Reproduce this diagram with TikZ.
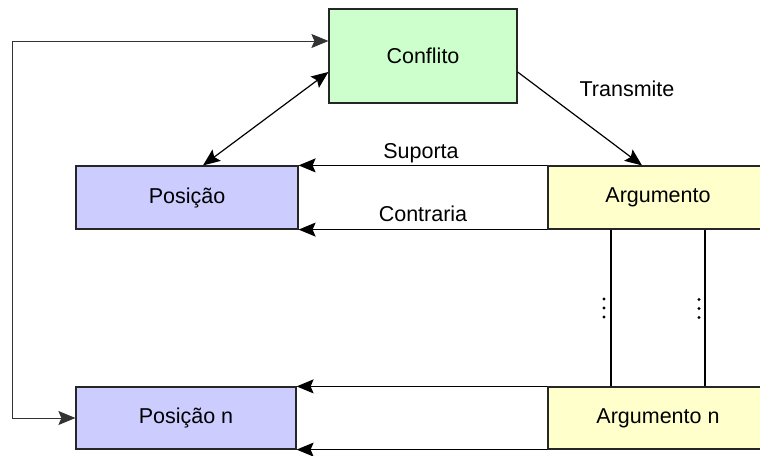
\documentclass[tikz,border=0pt]{standalone}
\usepackage{fontspec}
\setmainfont{Liberation Sans}
\usetikzlibrary{arrows.meta}
\definecolor{cgreen}{HTML}{CCFFCC}
\definecolor{cblue}{HTML}{CCCCFF}
\definecolor{cyellow}{HTML}{FFFFCC}
\tikzset{
  box/.style={draw=black!85, line width=1.2pt, rectangle, inner sep=0pt, font=\fontsize{21.5}{25}\selectfont},
  lbl/.style={inner sep=0pt, anchor=base, font=\fontsize{21.5}{25}\selectfont},
  tip/.style={},
  conn/.style={line width=1.2pt, -{Stealth[length=17pt,width=14pt,inset=3pt]}},
  both/.style={line width=1.2pt, {Stealth[length=17pt,width=14pt,inset=3pt]}-{Stealth[length=17pt,width=14pt,inset=3pt]}},
  plain/.style={line width=1.2pt}
}
\begin{document}
\begin{tikzpicture}[x=1pt,y=-1pt]
\useasboundingbox (0,0) rectangle (760,455);
\clip (0,0) rectangle (760,455);
\fill[white] (0,0) rectangle (760,455);
\node[box, fill=cgreen, minimum width=188pt, minimum height=94pt] (conf) at (423,56) {Conflito};
\node[box, fill=cblue, minimum width=222pt, minimum height=63pt] (pos) at (187,197.5) {Posição};
\node[box, fill=cyellow, minimum width=230pt, minimum height=63pt] (arg) at (663,197.5) {\hspace*{-10pt}Argumento};
\node[box, fill=cblue, minimum width=220pt, minimum height=62pt] (posn) at (186,418) {Posição n};
\node[box, fill=cyellow, minimum width=230pt, minimum height=62pt] (argn) at (663,418) {\hspace*{-10pt}Argumento n};
% connectors
\draw[both] ([yshift=-16pt]conf.west) -- ([xshift=16pt]pos.north);
\draw[conn] ([yshift=-16pt]conf.east) -- ([xshift=-21pt]arg.north);
\draw[conn] (arg.north west) -- (pos.north east);
\draw[conn] (arg.south west) -- (pos.south east);
\draw[conn] (argn.north west) -- (posn.north east);
\draw[conn] (argn.south west) -- (posn.south east);
\draw[plain] ([xshift=-52pt]arg.south) -- ([xshift=-52pt]argn.north);
\draw[plain] ([xshift=42pt]arg.south) -- ([xshift=42pt]argn.north);
\draw[both, line width=0.9pt, draw=black!80] ([yshift=15pt]conf.west) -- ++(-316pt,0) |- (posn.west);
% labels
\node[lbl] (sup) at (421,158) {Suporta};
\node[lbl] (con) at (423,221) {Contraria};
\node[lbl] (tra) at (627,96) {Transmite};
% dots
\foreach \yy in {299,308,317} {
  \fill (604,\yy) circle (1.7pt);
  \fill (699,\yy+0.5) circle (1.7pt);
}
\end{tikzpicture}
\end{document}
